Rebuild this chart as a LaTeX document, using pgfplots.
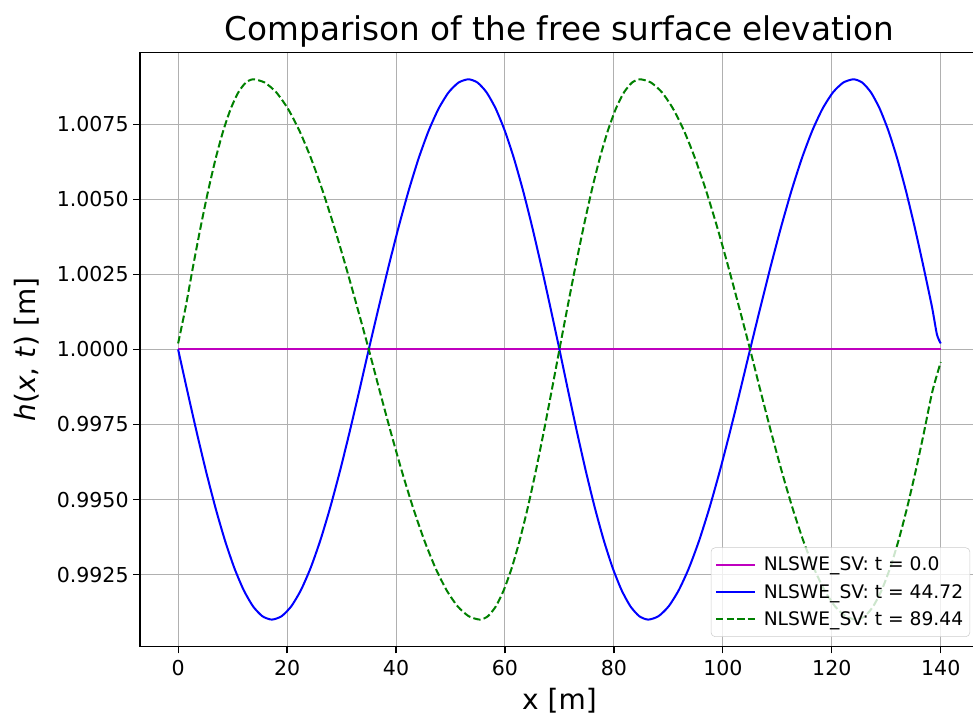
\documentclass[border=0pt]{standalone}
\usepackage{pgfplots}
\pgfplotsset{compat=1.18}
\usepackage{fontspec}
\setmainfont{DejaVu Sans}

\definecolor{mplmagenta}{rgb}{0.75,0,0.75}
\definecolor{mplblue}{rgb}{0,0,1}
\definecolor{mplgreen}{rgb}{0,0.5,0}
\definecolor{gridgray}{rgb}{0.69,0.69,0.69}
\definecolor{legendgray}{rgb}{0.8,0.8,0.8}

\begin{document}
\begin{tikzpicture}
\begin{axis}[
  scale only axis,
  width=629.2pt, height=445.8pt,
  xmin=-7, xmax=147, ymin=0.9901, ymax=1.0099,
  xtick={0,20,40,60,80,100,120,140},
  ytick={0.9925,0.995,0.9975,1,1.0025,1.005,1.0075},
  scaled y ticks=false,
  /pgf/number format/assume math mode=true,
  yticklabel style={/pgf/number format/fixed,
                    /pgf/number format/fixed zerofill,
                    /pgf/number format/precision=4},
  grid=major,
  major grid style={color=gridgray, line width=0.75pt},
  axis line style={line width=0.9pt},
  tick align=outside, tick pos=left,
  major tick length=5pt,
  tick style={black, line width=0.9pt},
  ticklabel style={font=\fontsize{15.4}{18}\selectfont},
  xticklabel style={yshift=-1.5pt},
  title={Comparison of the free surface elevation},
  title style={font=\fontsize{24.5}{29}\selectfont, yshift=-6pt},
  xlabel={x [m]},
  ylabel={\textit{h}(\textit{x}, \textit{t}) [m]},
  label style={font=\fontsize{21}{25}\selectfont},
  xlabel shift=3pt,
  ylabel shift=6pt,
  legend cell align=left,
  legend image code/.code={\draw[#1] (0pt,0pt) -- (29pt,0pt); \path (33pt,0pt);},
  legend style={at={(1,0)}, anchor=south east, xshift=-6.6pt, yshift=7.3pt,
                fill=white, fill opacity=0.8, text opacity=1, draw opacity=1,
                draw=legendgray, rounded corners=3pt,
                font=\fontsize{14}{16}\selectfont,
                row sep=4.5pt, inner xsep=3pt, inner ysep=5pt},
]
\coordinate (sw) at (rel axis cs:0,0);
\coordinate (ne) at (rel axis cs:1,1);

% initial state: flat surface
\addplot[mplmagenta, line width=1.5pt] coordinates {(0,1.0) (140,1.0)};
\addlegendentry{NLSWE\_SV: t = 0.0}

% t = 44.72
\addplot[mplblue, line width=1.5pt, smooth, tension=0.4] coordinates {
(0,1.0)(1.72,0.998592)(3.44,0.997219)(5.16,0.995914)(6.88,0.994710)(8.6,0.993636)
(10.32,0.992719)(12.04,0.991981)(13.76,0.991440)(15.48,0.991111)(17.2,0.991000)
(18.98,0.991111)(20.76,0.991440)(22.54,0.991981)(24.32,0.992719)(26.1,0.993636)
(27.88,0.994710)(29.66,0.995914)(31.44,0.997219)(33.22,0.998592)(35,1.0)
(36.83,1.001408)(38.66,1.002781)(40.49,1.004086)(42.32,1.005290)(44.15,1.006364)
(45.98,1.007281)(47.81,1.008019)(49.64,1.008560)(51.47,1.008889)(53.3,1.009)
(54.97,1.008889)(56.64,1.008560)(58.31,1.008019)(59.98,1.007281)(61.65,1.006364)
(63.32,1.005290)(64.99,1.004086)(66.66,1.002781)(68.33,1.001408)(70,1.0)
(71.63,0.998592)(73.26,0.997219)(74.89,0.995914)(76.52,0.994710)(78.15,0.993636)
(79.78,0.992719)(81.41,0.991981)(83.04,0.991440)(84.67,0.991111)(86.3,0.991)
(88.17,0.991111)(90.04,0.991440)(91.91,0.991981)(93.78,0.992719)(95.65,0.993636)
(97.52,0.994710)(99.39,0.995914)(101.26,0.997219)(103.13,0.998592)(105,1.0)
(106.9,1.001408)(108.8,1.002781)(110.7,1.004086)(112.6,1.005290)(114.5,1.006364)
(116.4,1.007281)(118.3,1.008019)(120.2,1.008560)(122.1,1.008889)(124,1.009)
(125.6,1.008889)(127.2,1.008560)(128.8,1.008019)(130.4,1.007281)(132,1.006364)
(133.6,1.005290)(135.2,1.004086)(136.8,1.002781)(138.4,1.001408)(139.3,1.0005)(140,1.0002)
};
\addlegendentry{NLSWE\_SV: t = 44.72}

% t = 89.44
\addplot[mplgreen, line width=1.5pt, dash pattern=on 5.5pt off 2.4pt, smooth, tension=0.4] coordinates {
(0,1.0002)(1.38,1.001408)(2.76,1.002781)(4.14,1.004086)(5.52,1.005290)(6.9,1.006364)
(8.28,1.007281)(9.66,1.008019)(11.04,1.008560)(12.42,1.008889)(13.8,1.009)
(15.92,1.008889)(18.04,1.008560)(20.16,1.008019)(22.28,1.007281)(24.4,1.006364)
(26.52,1.005290)(28.64,1.004086)(30.76,1.002781)(32.88,1.001408)(35,1.0)
(37.04,0.998592)(39.08,0.997219)(41.12,0.995914)(43.16,0.994710)(45.2,0.993636)
(47.24,0.992719)(49.28,0.991981)(51.32,0.991440)(53.36,0.991111)(55.4,0.991)
(56.86,0.991111)(58.32,0.991440)(59.78,0.991981)(61.24,0.992719)(62.7,0.993636)
(64.16,0.994710)(65.62,0.995914)(67.08,0.997219)(68.54,0.998592)(70,1.0)
(71.48,1.001408)(72.96,1.002781)(74.44,1.004086)(75.92,1.005290)(77.4,1.006364)
(78.88,1.007281)(80.36,1.008019)(81.84,1.008560)(83.32,1.008889)(84.8,1.009)
(86.82,1.008889)(88.84,1.008560)(90.86,1.008019)(92.88,1.007281)(94.9,1.006364)
(96.92,1.005290)(98.94,1.004086)(100.96,1.002781)(102.98,1.001408)(105,1.0)
(106.95,0.998592)(108.9,0.997219)(110.85,0.995914)(112.8,0.994710)(114.75,0.993636)
(116.7,0.992719)(118.65,0.991981)(120.6,0.991440)(122.55,0.991111)(124.5,0.991)
(126.05,0.991111)(127.6,0.991440)(129.15,0.991981)(130.7,0.992719)(132.25,0.993636)
(133.8,0.994710)(135.35,0.995914)(136.9,0.997219)(138.45,0.998592)(140,0.99958)
};
\addlegendentry{NLSWE\_SV: t = 89.44}
\end{axis}
% page frame: left/bottom/top margins around the plot area, right edge trimmed
\pgfresetboundingbox
\path[use as bounding box] ([shift={(-105pt,-52pt)}]sw) rectangle ([shift={(-4.4pt,39.2pt)}]ne);
\end{tikzpicture}
\end{document}
